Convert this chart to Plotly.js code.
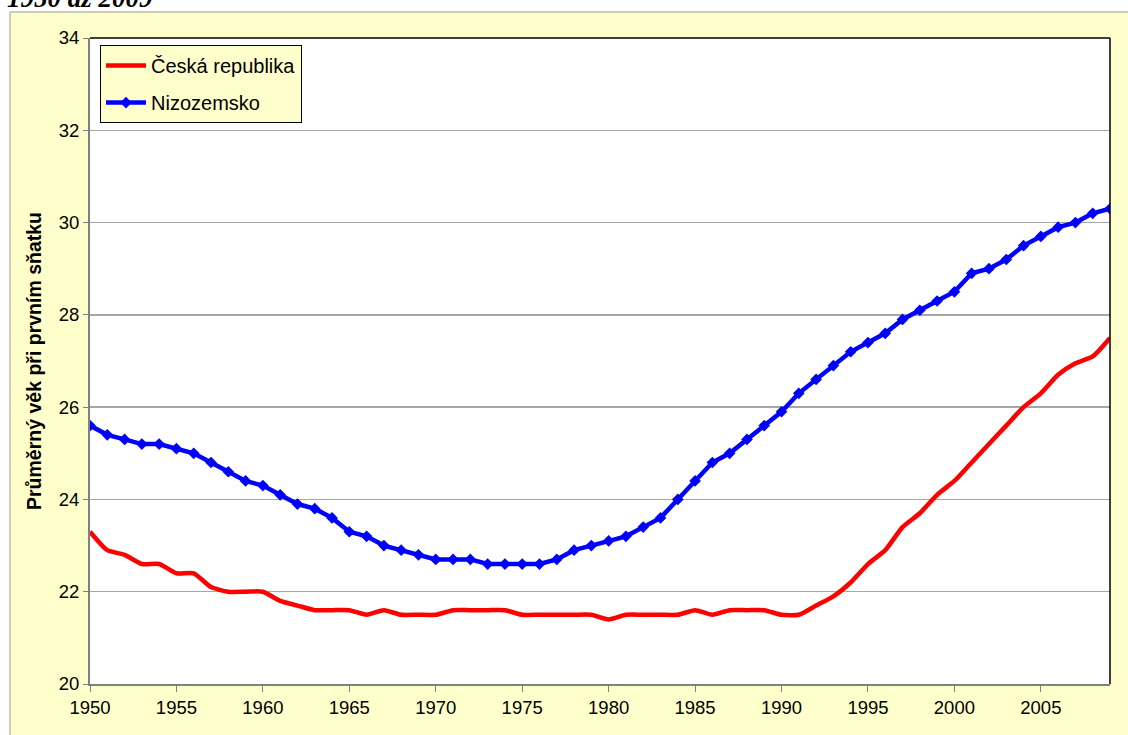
<!DOCTYPE html>
<html>
<head>
<meta charset="utf-8">
<script src="https://cdn.plot.ly/plotly-3.0.1.min.js"></script>
<style>html,body{margin:0;padding:0;background:#fff;}#chart{width:1128px;height:735px;}</style>
</head>
<body>
<div id="chart"></div>
<script>
const years = [1950,1951,1952,1953,1954,1955,1956,1957,1958,1959,1960,1961,1962,1963,1964,1965,1966,1967,1968,1969,1970,1971,1972,1973,1974,1975,1976,1977,1978,1979,1980,1981,1982,1983,1984,1985,1986,1987,1988,1989,1990,1991,1992,1993,1994,1995,1996,1997,1998,1999,2000,2001,2002,2003,2004,2005,2006,2007,2008,2009];
const czech = [23.3,22.9,22.8,22.6,22.6,22.4,22.4,22.1,22.0,22.0,22.0,21.8,21.7,21.6,21.6,21.6,21.5,21.6,21.5,21.5,21.5,21.6,21.6,21.6,21.6,21.5,21.5,21.5,21.5,21.5,21.4,21.5,21.5,21.5,21.5,21.6,21.5,21.6,21.6,21.6,21.5,21.5,21.7,21.9,22.2,22.6,22.9,23.4,23.7,24.1,24.4,24.8,25.2,25.6,26.0,26.3,26.7,26.95,27.1,27.5];
const netherlands = [25.6,25.4,25.3,25.2,25.2,25.1,25.0,24.8,24.6,24.4,24.3,24.1,23.9,23.8,23.6,23.3,23.2,23.0,22.9,22.8,22.7,22.7,22.7,22.6,22.6,22.6,22.6,22.7,22.9,23.0,23.1,23.2,23.4,23.6,24.0,24.4,24.8,25.0,25.3,25.6,25.9,26.3,26.6,26.9,27.2,27.4,27.6,27.9,28.1,28.3,28.5,28.9,29.0,29.2,29.5,29.7,29.9,30.0,30.2,30.3];
const seriesNames = ["Česká republika","Nizozemsko"];
const xTicks = [1950,1955,1960,1965,1970,1975,1980,1985,1990,1995,2000,2005];
const yTicks = [20,22,24,26,28,30,32,34];
const titleText = "1950 až 2009";
const yTitle = "Průměrný věk při prvním sňatku";

const traces = [
  {x: years, y: czech, name: seriesNames[0], type: 'scatter', mode: 'lines',
   line: {color: '#FF0000', width: 4.5, shape: 'spline', smoothing: 0.6}, legendgroup: 'a'},
  {x: years, y: netherlands, name: seriesNames[1], type: 'scatter', mode: 'lines+markers',
   line: {color: '#0000FF', width: 4.5}, marker: {symbol: 'diamond', size: 9, color: '#0000FF'}, legendgroup: 'b'}
];

const layout = {
  width: 1128, height: 735,
  margin: {l: 90, r: 18, t: 38, b: 51},
  paper_bgcolor: '#FFFFFF',
  plot_bgcolor: '#FFFFFF',
  font: {family: 'Liberation Sans, Arial, sans-serif', size: 18, color: '#000'},
  showlegend: true,
  legend: {x: 0.0098, y: 0.989, xanchor: 'left', yanchor: 'top', bgcolor: '#FFFFCC',
    bordercolor: '#000', borderwidth: 1, font: {size: 20}, traceorder: 'grouped', tracegroupgap: 8,
    itemwidth: 40},
  xaxis: {range: [1950, 2009], tickvals: xTicks, ticks: 'outside', ticklen: 6, tickcolor: '#808080',
    showline: true, linecolor: '#808080', linewidth: 2, showgrid: false, zeroline: false,
    tickfont: {size: 18.5}},
  yaxis: {range: [20, 34], tickvals: yTicks, ticks: 'outside', ticklen: 5, tickcolor: '#808080',
    showline: true, linecolor: '#808080', linewidth: 2, gridcolor: '#A6A6A6', gridwidth: 1.5, zeroline: false,
    tickfont: {size: 18.5},
    title: {text: '<b>' + yTitle + '</b>', font: {size: 19.5}, standoff: 12}},
  shapes: [
    {type: 'rect', xref: 'paper', yref: 'paper', x0: -0.0784, x1: 1.05, y0: -0.12, y1: 1.0403,
     fillcolor: '#FFFFCC', line: {color: '#9A9A9A', width: 1}, layer: 'below'},
    {type: 'rect', xref: 'paper', yref: 'paper', x0: 0, x1: 1, y0: 0, y1: 1,
     fillcolor: '#FFFFFF', line: {width: 0}, layer: 'below'},
    {type: 'line', xref: 'paper', yref: 'paper', x0: 0, x1: 1, y0: 1, y1: 1, line: {color: '#000', width: 1.5}},
    {type: 'line', xref: 'paper', yref: 'paper', x0: 1, x1: 1, y0: 0, y1: 1, line: {color: '#000', width: 1.5}}
  ],
  annotations: [
    {text: '<b><i>' + titleText + '</i></b>', xref: 'paper', yref: 'paper', x: -0.083, y: 1.036,
     xanchor: 'left', yanchor: 'bottom', showarrow: false,
     font: {family: 'Liberation Serif, Times New Roman, serif', size: 27, color: '#000'}}
  ]
};

Plotly.newPlot('chart', traces, layout, {displayModeBar: false, staticPlot: true});
</script>
</body>
</html>
